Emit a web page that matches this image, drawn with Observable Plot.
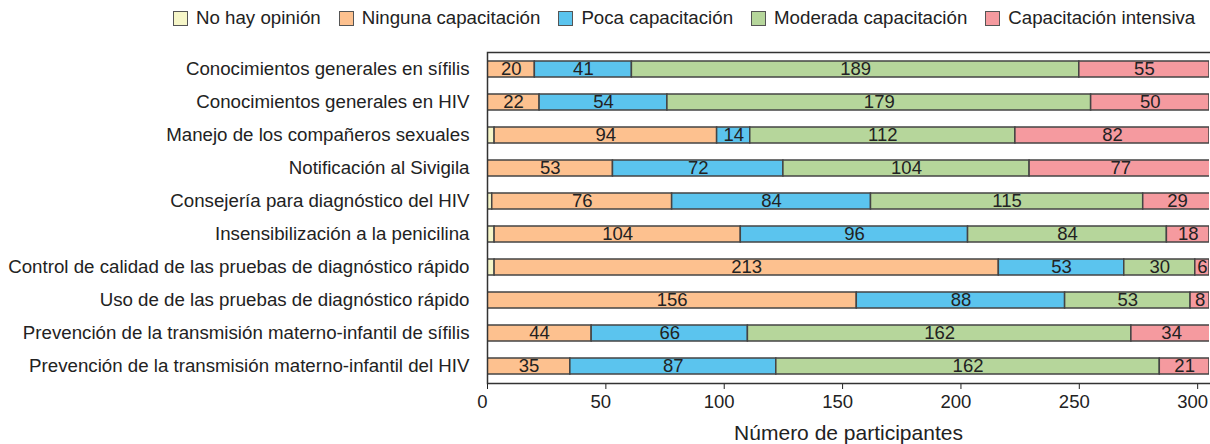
<!DOCTYPE html>
<html>
<head>
<meta charset="utf-8">
<script src="https://cdn.jsdelivr.net/npm/d3@7"></script>
<script src="https://cdn.jsdelivr.net/npm/@observablehq/plot@0.6"></script>
<style>
  html, body { margin: 0; padding: 0; background: #fff; }
  body { width: 1210px; height: 444px; overflow: hidden; font-family: "Liberation Sans", Arial, sans-serif; color: #222; }
  #legend { height: 36px; display: flex; align-items: center; padding-left: 173px; font-size: 18.7px; white-space: nowrap; }
  #legend .item { display: flex; align-items: center; margin-right: 18px; }
  #legend .sw { width: 13px; height: 13px; border: 1.5px solid #555; margin-right: 8px; }
  svg { display: block; }
</style>
</head>
<body>
<div id="legend"></div>
<div id="chart"></div>
<script>
const categories = [
  "Conocimientos generales en sífilis",
  "Conocimientos generales en HIV",
  "Manejo de los compañeros sexuales",
  "Notificación al Sivigila",
  "Consejería para diagnóstico del HIV",
  "Insensibilización a la penicilina",
  "Control de calidad de las pruebas de diagnóstico rápido",
  "Uso de de las pruebas de diagnóstico rápido",
  "Prevención de la transmisión materno-infantil de sífilis",
  "Prevención de la transmisión materno-infantil del HIV"
];
const seriesNames = ["No hay opinión", "Ninguna capacitación", "Poca capacitación", "Moderada capacitación", "Capacitación intensiva"];
const noOpinion = [0, 0, 3, 0, 2, 3, 3, 0, 0, 0];
const ninguna   = [20, 22, 94, 53, 76, 104, 213, 156, 44, 35];
const poca      = [41, 54, 14, 72, 84, 96, 53, 88, 66, 87];
const moderada  = [189, 179, 112, 104, 115, 84, 30, 53, 162, 162];
const intensiva = [55, 50, 82, 77, 29, 18, 6, 8, 34, 21];
const seriesColors = ["#f6f6c8", "#fdc18f", "#5bc4ee", "#b6d69b", "#f59a9f"];
const xTicks = [0, 50, 100, 150, 200, 250, 300];
const xTitle = "Número de participantes";

const seriesValues = [noOpinion, ninguna, poca, moderada, intensiva];
const data = [];
categories.forEach((c, i) => {
  seriesNames.forEach((s, j) => {
    data.push({category: c, series: s, value: seriesValues[j][i]});
  });
});

// legend
const legend = document.getElementById("legend");
seriesNames.forEach((s, j) => {
  const it = document.createElement("div");
  it.className = "item";
  const sw = document.createElement("div");
  sw.className = "sw";
  sw.style.background = seriesColors[j];
  const t = document.createElement("span");
  t.textContent = s;
  it.appendChild(sw);
  it.appendChild(t);
  legend.appendChild(it);
});

const font = "'Liberation Sans', Arial, sans-serif";
const chart = Plot.plot({
  width: 1210,
  height: 408,
  marginLeft: 487,
  marginRight: 1,
  marginTop: 16,
  marginBottom: 61,
  style: {fontSize: "18.7px", fontFamily: font, color: "#222", background: "#fff"},
  x: {domain: [0, 305], ticks: xTicks, tickSize: 6, tickFormat: () => "", label: null},
  y: {domain: categories, label: null, tickSize: 0, tickPadding: 18, paddingInner: 0.53, paddingOuter: 0.265},
  color: {domain: seriesNames, range: seriesColors},
  marks: [
    Plot.barX(data, Plot.stackX({x: "value", y: "category", fill: "series", z: "series", stroke: "#444", strokeWidth: 1.5, clip: true})),
    Plot.text(data, Plot.stackX({x: "value", y: "category", z: "series", text: d => d.value >= 5 ? String(d.value) : "", fill: "#222", fontSize: 18.5, clip: true})),
    Plot.frame({stroke: "#333", strokeWidth: 1.5, insetRight: -4}),
    Plot.text(xTicks, {x: d => d, text: d => String(d), frameAnchor: "bottom", dy: 24, dx: -5, fontSize: 18.5, fill: "#222"}),
    Plot.text([xTitle], {text: d => d, frameAnchor: "bottom", dy: 56, fontSize: 21, fill: "#222"})
  ]
});
document.getElementById("chart").appendChild(chart);
</script>
</body>
</html>
